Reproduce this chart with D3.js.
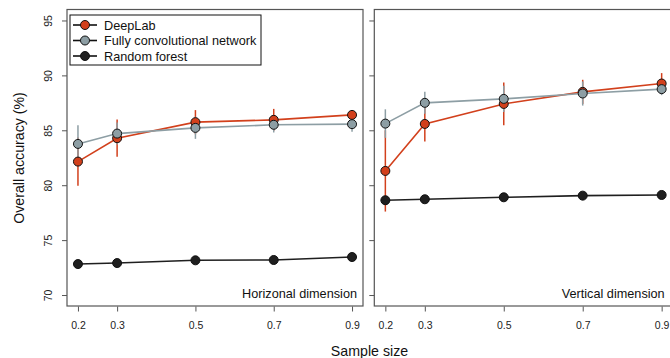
<!DOCTYPE html>
<html>
<head>
<meta charset="utf-8">
<script src="https://cdn.jsdelivr.net/npm/d3@7"></script>
<style>
  body { margin: 0; background: #fff; }
  svg { display: block; font-family: "Liberation Sans", Arial, sans-serif; }
</style>
</head>
<body>
<svg width="670" height="358"></svg>
<script>
// sample sizes (x) and results per panel
var sampleSizes = [0.2, 0.3, 0.5, 0.7, 0.9];
var xTicks = ["0.2", "0.3", "0.5", "0.7", "0.9"];
var yTicks = [70, 75, 80, 85, 90, 95];

var seriesNames = ["DeepLab", "Fully convolutional network", "Random forest"];
var seriesColors = ["#d2401c", "#8d9ea4", "#1f1f1f"];

// Horizonal dimension
var horizDeepLab = [82.15, 84.28, 85.74, 85.95, 86.4];
var horizDeepLabErr = [2.2, 1.7, 1.1, 1.0, 0.45];
var horizFCN = [83.76, 84.7, 85.22, 85.5, 85.56];
var horizFCNErr = [1.7, 1.0, 1.0, 0.7, 0.7];
var horizRF = [72.82, 72.91, 73.16, 73.19, 73.46];

// Vertical dimension
var vertDeepLab = [81.3, 85.58, 87.4, 88.5, 89.26];
var vertDeepLabErr = [3.7, 1.6, 1.95, 1.1, 0.95];
var vertFCN = [85.61, 87.5, 87.86, 88.35, 88.75];
var vertFCNErr = [1.3, 1.0, 1.2, 1.1, 0.55];
var vertRF = [78.63, 78.72, 78.9, 79.05, 79.11];

var panels = [
    { label: "Horizonal dimension", left: 67, right: 363,
      series: [[horizDeepLab, horizDeepLabErr], [horizFCN, horizFCNErr], [horizRF, null]] },
    { label: "Vertical dimension", left: 374.3, right: 672.7,
      series: [[vertDeepLab, vertDeepLabErr], [vertFCN, vertFCNErr], [vertRF, null]] }
];

var svg = d3.select("svg");
var plotTop = 9.5, plotBottom = 306;
var axisCol = "#555";

var y = d3.scaleLinear().domain([69, 96]).range([plotBottom, plotTop]);

panels.forEach(function (p, pi) {
    var x = d3.scaleLinear().domain([0.172, 0.928]).range([p.left, p.right]);
    var g = svg.append("g");

    // y ticks (labels only on the first panel)
    var ya = d3.axisLeft(y).tickValues(yTicks).tickSize(5)
        .tickFormat(pi === 0 ? d3.format("d") : "");
    var yg = g.append("g").attr("transform", "translate(" + p.left + ",0)").call(ya);
    yg.select(".domain").remove();
    yg.selectAll("line").attr("stroke", axisCol);
    yg.selectAll("text")
        .attr("font-size", "10.5px").attr("fill", "#222")
        .attr("text-anchor", "middle")
        .attr("x", 0).attr("dy", "0.35em")
        .attr("transform", "translate(-19,0) rotate(-90)");

    // x axis
    var xa = d3.axisBottom(x).tickValues(sampleSizes).tickSize(5).tickPadding(10)
        .tickFormat(function (d, i) { return xTicks[i]; });
    var xg = g.append("g").attr("transform", "translate(0," + (plotBottom + 0.5) + ")").call(xa);
    xg.select(".domain").remove();
    xg.selectAll("line").attr("stroke", axisCol);
    xg.selectAll("text").attr("font-size", "10.5px").attr("fill", "#222");

    // error bars first, then lines and points
    p.series.forEach(function (s, si) {
        var vals = s[0], err = s[1];
        if (err) {
            g.append("g").selectAll("line").data(vals).enter().append("line")
                .attr("x1", function (d, i) { return x(sampleSizes[i]); })
                .attr("x2", function (d, i) { return x(sampleSizes[i]); })
                .attr("y1", function (d, i) { return y(d - err[i]); })
                .attr("y2", function (d, i) { return y(d + err[i]); })
                .attr("stroke", seriesColors[si]).attr("stroke-width", 1.5);
        }
    });
    p.series.forEach(function (s, si) {
        var vals = s[0];
        var line = d3.line()
            .x(function (d, i) { return x(sampleSizes[i]); })
            .y(function (d) { return y(d); });
        g.append("path").datum(vals).attr("d", line)
            .attr("fill", "none").attr("stroke", seriesColors[si]).attr("stroke-width", 1.6);
        g.append("g").selectAll("circle").data(vals).enter().append("circle")
            .attr("cx", function (d, i) { return x(sampleSizes[i]); })
            .attr("cy", function (d) { return y(d); })
            .attr("r", 4.5)
            .attr("fill", seriesColors[si]).attr("stroke", "#111").attr("stroke-width", 1);
    });

    // box
    g.append("rect").attr("x", p.left).attr("y", plotTop)
        .attr("width", p.right - p.left).attr("height", plotBottom - plotTop)
        .attr("fill", "none").attr("stroke", axisCol).attr("stroke-width", 1.2);

    g.append("text").attr("x", p.right - (pi === 0 ? 6 : 8)).attr("y", plotBottom - 8)
        .attr("text-anchor", "end").attr("font-size", "12.7px").attr("fill", "#111")
        .text(p.label);
});

// legend (segments drawn in black, points in series colour)
var lg = svg.append("g").attr("transform", "translate(70,15)");
lg.append("rect").attr("width", 191).attr("height", 50)
    .attr("fill", "#fff").attr("stroke", "#111").attr("stroke-width", 1);
seriesNames.forEach(function (n, i) {
    var cy = 10 + i * 15.5;
    lg.append("line").attr("x1", 3).attr("x2", 27).attr("y1", cy).attr("y2", cy)
        .attr("stroke", "#111").attr("stroke-width", 1.6);
    lg.append("circle").attr("cx", 15).attr("cy", cy).attr("r", 4.5)
        .attr("fill", seriesColors[i]).attr("stroke", "#111");
    lg.append("text").attr("x", 34).attr("y", cy).attr("dy", "0.36em")
        .attr("font-size", "12.7px").attr("fill", "#111").text(n);
});

// axis titles
svg.append("text").attr("x", 369.5).attr("y", 356).attr("text-anchor", "middle")
    .attr("font-size", "14.2px").attr("fill", "#111").text("Sample size");
svg.append("text").attr("transform", "translate(19,158) rotate(-90)")
    .attr("text-anchor", "middle").attr("dy", "0.35em")
    .attr("font-size", "14.2px").attr("fill", "#111").text("Overall accuracy (%)");
</script>
</body>
</html>
